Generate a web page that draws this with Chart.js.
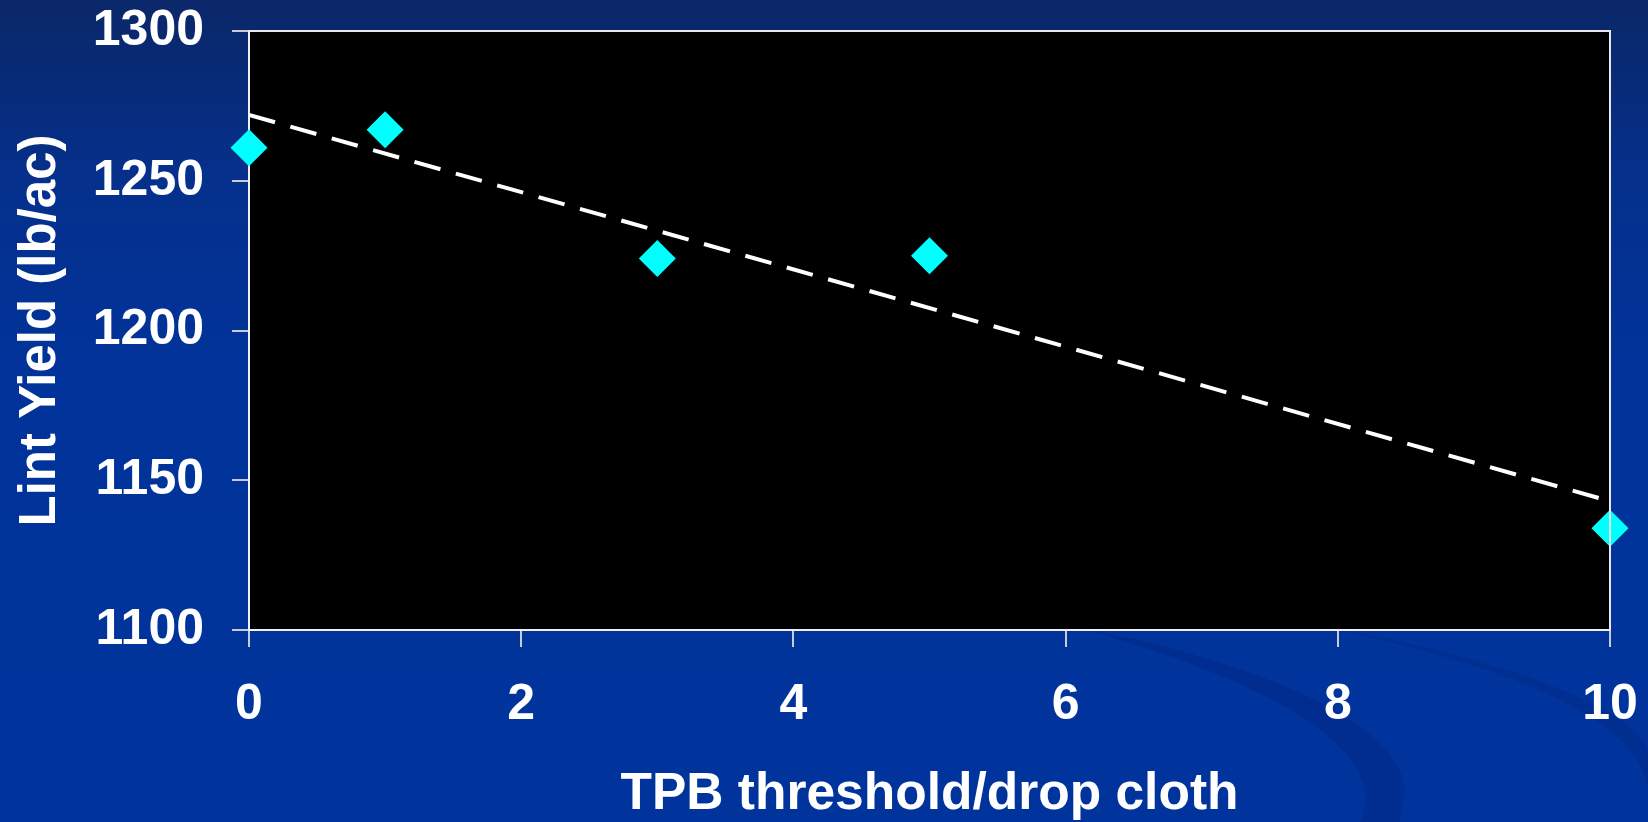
<!DOCTYPE html>
<html>
<head>
<meta charset="utf-8">
<script src="https://cdn.jsdelivr.net/npm/chart.js@4/dist/chart.umd.min.js"></script>
<style>
  html, body { margin: 0; padding: 0; background: #00339a; }
  #wrap { width: 1648px; height: 822px; position: relative; }
</style>
</head>
<body>
<div id="wrap"><canvas id="chart" width="1648" height="822"></canvas></div>
<script>
// Lint yield against the TPB threshold (insects per drop cloth)
const thresholds = [0, 1, 3, 5, 10];
const lintYield = [1261, 1267, 1224, 1225, 1134];

// Linear trend line, end points at x = 0 and x = 10
const trendX = [0, 10];
const trendY = [1272, 1143];

const xTitle = 'TPB threshold/drop cloth';
const yTitle = 'Lint Yield (lb/ac)';

const FONT = "'Liberation Sans', Arial, Helvetica, sans-serif";

// Slide-style backdrop: blue gradient with faint swooshes, black plot area, white frame
const backdrop = {
  id: 'backdrop',
  beforeDraw(chart) {
    const { ctx, width, height, chartArea: a } = chart;
    ctx.save();
    const g = ctx.createLinearGradient(0, 0, 0, height);
    g.addColorStop(0, '#0a2768');
    g.addColorStop(0.22, '#05308c');
    g.addColorStop(0.45, '#01339a');
    g.addColorStop(1, '#00349c');
    ctx.fillStyle = g;
    ctx.fillRect(0, 0, width, height);

    // faint darker swooshes in the lower right
    ctx.fillStyle = 'rgba(0, 30, 110, 0.28)';
    ctx.beginPath();
    ctx.moveTo(1080, 628);
    ctx.bezierCurveTo(1250, 660, 1400, 720, 1405, 790);
    ctx.lineTo(1400, 822);
    ctx.lineTo(1360, 822);
    ctx.bezierCurveTo(1390, 760, 1300, 690, 1080, 628);
    ctx.closePath();
    ctx.fill();

    ctx.fillStyle = 'rgba(0, 30, 110, 0.22)';
    ctx.beginPath();
    ctx.moveTo(1330, 628);
    ctx.bezierCurveTo(1520, 660, 1660, 720, 1648, 760);
    ctx.lineTo(1648, 790);
    ctx.bezierCurveTo(1640, 720, 1520, 670, 1330, 628);
    ctx.closePath();
    ctx.fill();

    ctx.fillStyle = '#000000';
    ctx.fillRect(a.left, a.top, a.right - a.left, a.bottom - a.top);
    ctx.restore();
  },
  afterDatasetsDraw(chart) {
    const { ctx, chartArea: a } = chart;
    ctx.save();
    ctx.strokeStyle = '#e8e8e8';
    ctx.lineWidth = 2;
    ctx.beginPath();
    ctx.moveTo(a.left, a.top);
    ctx.lineTo(a.right, a.top);
    ctx.lineTo(a.right, a.bottom);
    ctx.stroke();
    ctx.restore();
  }
};

new Chart(document.getElementById('chart'), {
  type: 'scatter',
  data: {
    datasets: [
      {
        label: 'Lint yield',
        data: thresholds.map((x, i) => ({ x, y: lintYield[i] })),
        pointStyle: 'rectRot',
        pointRadius: 18.5,
        pointHoverRadius: 18.5,
        backgroundColor: '#00ffff',
        borderColor: '#00ffff',
        borderWidth: 0,
        clip: false,
        order: 0
      },
      {
        label: 'Trend',
        type: 'line',
        data: trendX.map((x, i) => ({ x, y: trendY[i] })),
        borderColor: '#ffffff',
        borderWidth: 4,
        borderDash: [27, 16],
        pointRadius: 0,
        fill: false,
        tension: 0,
        order: 1
      }
    ]
  },
  options: {
    responsive: false,
    animation: false,
    events: [],
    layout: { padding: { top: 31, right: 38, left: 0, bottom: 0 } },
    plugins: {
      legend: { display: false },
      tooltip: { enabled: false }
    },
    scales: {
      x: {
        type: 'linear',
        min: 0,
        max: 10,
        afterFit(s) {
          s.height = 192;
          s.paddingLeft = 0;
          s.paddingRight = 0;
        },
        ticks: {
          stepSize: 2,
          color: '#ffffff',
          padding: 28,
          maxRotation: 0,
          callback: v => String(v),
          font: { family: FONT, size: 50, weight: 'bold' }
        },
        grid: {
          display: true,
          drawOnChartArea: false,
          drawTicks: true,
          tickLength: 17,
          color: '#c8ccd8',
          lineWidth: 2
        },
        border: { display: true, color: '#f0f0f0', width: 2 },
        title: {
          display: true,
          text: xTitle,
          color: '#ffffff',
          padding: { top: 0, bottom: 1 },
          font: { family: FONT, size: 51.5, weight: 'bold', lineHeight: 1 }
        }
      },
      y: {
        type: 'linear',
        min: 1100,
        max: 1300,
        afterFit(s) {
          s.width = 249;
          s.paddingTop = 0;
          s.paddingBottom = 0;
        },
        ticks: {
          stepSize: 50,
          color: '#ffffff',
          padding: 28,
          callback: v => String(v),
          font: { family: FONT, size: 50, weight: 'bold' }
        },
        grid: {
          display: true,
          drawOnChartArea: false,
          drawTicks: true,
          tickLength: 17,
          color: '#c8ccd8',
          lineWidth: 2
        },
        border: { display: true, color: '#f0f0f0', width: 2 },
        title: {
          display: true,
          text: yTitle,
          color: '#ffffff',
          padding: { top: 10, bottom: 0 },
          font: { family: FONT, size: 51, weight: 'bold', lineHeight: 1.2 }
        }
      }
    }
  },
  plugins: [backdrop]
});
</script>
</body>
</html>
